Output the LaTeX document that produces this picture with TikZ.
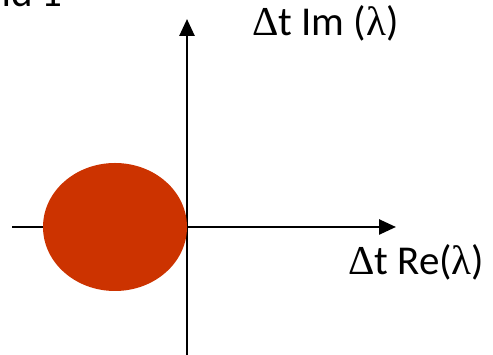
\documentclass[tikz,border=0pt]{standalone}
\usepackage{fontspec}
\setmainfont{Carlito}
\newfontfamily\grk{Liberation Serif}
\usetikzlibrary{arrows.meta}
\definecolor{disk}{RGB}{204,51,0}
\begin{document}
\begin{tikzpicture}[x=1pt,y=1pt,
  axis/.style={line width=2.6pt,-{Triangle[length=17pt,width=15pt]}},
  lbl/.style={font=\fontsize{41}{44}\selectfont,inner sep=0pt,anchor=base west}]
\useasboundingbox (0,0) rectangle (493,355);
\coordinate (xl) at (12,128);
\coordinate (xr) at (396,128);
\coordinate (yb) at (187,0);
\coordinate (yt) at (187,336);
\draw[axis] (xl) -- (xr);
\draw[axis] (yb) -- (yt);
\fill[disk] (115,128) ellipse [x radius=72, y radius=64];
\node[lbl] (im) at (252,319) {{\grk Δ}t Im ({\grk λ})};
\node[lbl] (re) at (348,80) {{\grk Δ}t Re({\grk λ})};
\node[lbl,anchor=base east] (ttl) at (63,348) {Kind 1};
\end{tikzpicture}
\end{document}
